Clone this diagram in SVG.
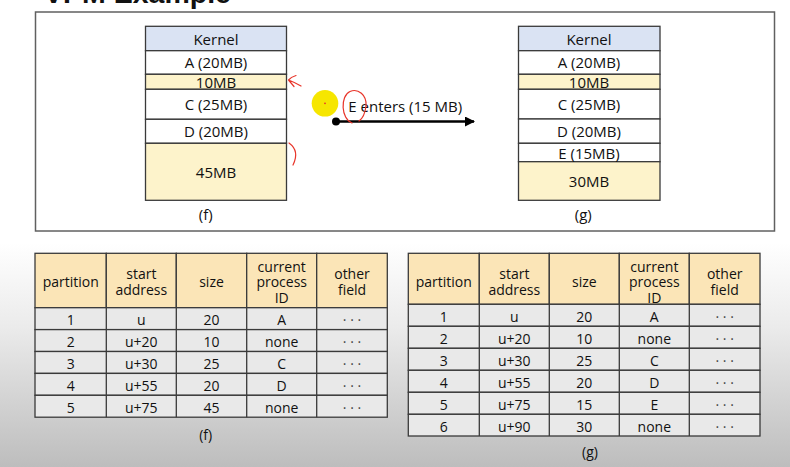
<svg xmlns="http://www.w3.org/2000/svg" width="790" height="467" viewBox="0 0 790 467">
  <defs>
    <linearGradient id="bg" x1="0" y1="0" x2="0" y2="467" gradientUnits="userSpaceOnUse">
      <stop offset="0" stop-color="#ffffff"/>
      <stop offset="0.52" stop-color="#ffffff"/>
      <stop offset="0.7" stop-color="#ebebeb"/>
      <stop offset="1" stop-color="#bdbdbd"/>
    </linearGradient>
    <marker id="arrowHead" viewBox="0 0 10 10" refX="9" refY="5" markerWidth="4" markerHeight="4" orient="auto" markerUnits="strokeWidth">
      <path d="M0,0 L10,5 L0,10 Z" fill="#000"/>
    </marker>
    <style>
      .t { font-family: "Open Sans", "Noto Sans", "Liberation Sans", sans-serif; fill: #111; text-anchor: middle; }
      .mem { font-size: 15px; }
      .tab { font-size: 14px; }
      .dots { font-size: 14px; fill: #444; }
      .cell { stroke: #3a3a3a; stroke-width: 1.3; }
      .kernel { fill: #dae3f3; }
      .free { fill: #fdf3cb; }
      .used { fill: #ffffff; }
      .head { fill: #fbe5b7; stroke: #3a3a3a; stroke-width: 1.3; }
      .row { fill: #e9e9e9; stroke: #3a3a3a; stroke-width: 1.3; }
      .ink { fill: none; stroke: #e8352a; stroke-width: 1.2; stroke-linecap: round; stroke-linejoin: round; }
    </style>
  </defs>

  <rect x="0" y="0" width="790" height="467" fill="url(#bg)"/>

  <!-- title (partly off the top edge) -->
  <text x="44" y="3" font-family="Liberation Sans, Arial, sans-serif" font-weight="bold" font-size="28.5" fill="#111">VPM Example</text>

  <!-- frame around both memory maps -->
  <rect x="35.5" y="12" width="739" height="219" fill="#ffffff" stroke="#606060" stroke-width="1.5"/>

  <!-- memory map (f) -->
  <g id="mem-f">
    <rect class="cell kernel" x="145.5" y="26.3" width="141" height="24.4"/>
    <rect class="cell used" x="145.5" y="50.7" width="141" height="23.6"/>
    <rect class="cell free" x="145.5" y="74.3" width="141" height="15"/>
    <rect class="cell used" x="145.5" y="89.3" width="141" height="30"/>
    <rect class="cell used" x="145.5" y="119.3" width="141" height="24"/>
    <rect class="cell free" x="145.5" y="143.3" width="141" height="57"/>
    <text class="t mem" x="216" y="44.5">Kernel</text>
    <text class="t mem" x="216" y="68">A (20MB)</text>
    <text class="t mem" x="216" y="87.6">10MB</text>
    <text class="t mem" x="216" y="110">C (25MB)</text>
    <text class="t mem" x="216" y="137">D (20MB)</text>
    <text class="t mem" x="216" y="177.5">45MB</text>
    <text class="t mem" x="205.7" y="220">(f)</text>
  </g>

  <!-- memory map (g) -->
  <g id="mem-g">
    <rect class="cell kernel" x="518.5" y="26.3" width="141.5" height="24.4"/>
    <rect class="cell used" x="518.5" y="50.7" width="141.5" height="23.6"/>
    <rect class="cell free" x="518.5" y="74.3" width="141.5" height="15"/>
    <rect class="cell used" x="518.5" y="89.3" width="141.5" height="29.7"/>
    <rect class="cell used" x="518.5" y="119" width="141.5" height="24.3"/>
    <rect class="cell used" x="518.5" y="143.3" width="141.5" height="18.4"/>
    <rect class="cell free" x="518.5" y="161.7" width="141.5" height="38.6"/>
    <text class="t mem" x="589" y="44.5">Kernel</text>
    <text class="t mem" x="589" y="68">A (20MB)</text>
    <text class="t mem" x="589" y="87.6">10MB</text>
    <text class="t mem" x="589" y="110">C (25MB)</text>
    <text class="t mem" x="589" y="137">D (20MB)</text>
    <text class="t mem" x="589" y="159">E (15MB)</text>
    <text class="t mem" x="589" y="187">30MB</text>
    <text class="t mem" x="583.3" y="220">(g)</text>
  </g>

  <!-- transition arrow -->
  <g id="connectors">
    <circle cx="325" cy="103.3" r="13.3" fill="#f6e600"/>
    <circle cx="325" cy="103.3" r="0.9" fill="#e8352a"/>
    <circle cx="336" cy="121.5" r="4" fill="#000"/>
    <line x1="336" y1="121.5" x2="474" y2="121.5" stroke="#000" stroke-width="2.5" marker-end="url(#arrowHead)"/>
    <text class="t mem" x="348.3" y="111.7" style="text-anchor:start">E enters (15 MB)</text>
  </g>

  <!-- pen marks -->
  <g id="pen-marks">
    <path class="ink" d="M296,75.5 Q291,77 288.5,80 L294,86.5 M288.5,80 Q295,82.5 301,86"/>
    <path class="ink" d="M289,143 Q300,151 293,165"/>
    <path class="ink" d="M352,123 C341,119 340,96 350,91.5 C358,88 367,95 366,106 C365,114 362,119 359,121"/>
  </g>

  <!-- partition table (f) -->
  <g id="table-f">
    <rect class="head" x="35" y="253.3" width="71.3" height="54.4"/>
    <rect class="head" x="106.3" y="253.3" width="70" height="54.4"/>
    <rect class="head" x="176.3" y="253.3" width="70.4" height="54.4"/>
    <rect class="head" x="246.7" y="253.3" width="70" height="54.4"/>
    <rect class="head" x="316.7" y="253.3" width="70.6" height="54.4"/>
    <g>
      <rect class="row" x="35" y="307.7" width="352.3" height="21.9"/>
      <rect class="row" x="35" y="329.6" width="352.3" height="21.9"/>
      <rect class="row" x="35" y="351.5" width="352.3" height="21.9"/>
      <rect class="row" x="35" y="373.4" width="352.3" height="21.9"/>
      <rect class="row" x="35" y="395.3" width="352.3" height="21.9"/>
      <path class="cell" d="M106.3,307.7 V417.2 M176.3,307.7 V417.2 M246.7,307.7 V417.2 M316.7,307.7 V417.2"/>
    </g>
    <text class="t tab" x="70.7" y="286.5">partition</text>
    <text class="t tab" x="141.3" y="279">start</text>
    <text class="t tab" x="141.3" y="295">address</text>
    <text class="t tab" x="211.5" y="286.5">size</text>
    <text class="t tab" x="281.7" y="271.5">current</text>
    <text class="t tab" x="281.7" y="287.3">process</text>
    <text class="t tab" x="281.7" y="303">ID</text>
    <text class="t tab" x="352" y="279">other</text>
    <text class="t tab" x="352" y="295">field</text>

    <text class="t tab" x="70.7" y="325.2">1</text>
    <text class="t tab" x="141.3" y="325.2">u</text>
    <text class="t tab" x="211.5" y="325.2">20</text>
    <text class="t tab" x="281.7" y="325.2">A</text>
    <text class="t dots" x="352" y="325.2">· · ·</text>

    <text class="t tab" x="70.7" y="347.1">2</text>
    <text class="t tab" x="141.3" y="347.1">u+20</text>
    <text class="t tab" x="211.5" y="347.1">10</text>
    <text class="t tab" x="281.7" y="347.1">none</text>
    <text class="t dots" x="352" y="347.1">· · ·</text>

    <text class="t tab" x="70.7" y="369">3</text>
    <text class="t tab" x="141.3" y="369">u+30</text>
    <text class="t tab" x="211.5" y="369">25</text>
    <text class="t tab" x="281.7" y="369">C</text>
    <text class="t dots" x="352" y="369">· · ·</text>

    <text class="t tab" x="70.7" y="390.9">4</text>
    <text class="t tab" x="141.3" y="390.9">u+55</text>
    <text class="t tab" x="211.5" y="390.9">20</text>
    <text class="t tab" x="281.7" y="390.9">D</text>
    <text class="t dots" x="352" y="390.9">· · ·</text>

    <text class="t tab" x="70.7" y="412.8">5</text>
    <text class="t tab" x="141.3" y="412.8">u+75</text>
    <text class="t tab" x="211.5" y="412.8">45</text>
    <text class="t tab" x="281.7" y="412.8">none</text>
    <text class="t dots" x="352" y="412.8">· · ·</text>

    <text class="t tab" x="205.7" y="440">(f)</text>
  </g>

  <!-- partition table (g) -->
  <g id="table-g">
    <rect class="head" x="408.3" y="253.3" width="71" height="51"/>
    <rect class="head" x="479.3" y="253.3" width="70" height="51"/>
    <rect class="head" x="549.3" y="253.3" width="70" height="51"/>
    <rect class="head" x="619.3" y="253.3" width="70" height="51"/>
    <rect class="head" x="689.3" y="253.3" width="70.7" height="51"/>
    <g>
      <rect class="row" x="408.3" y="304.3" width="351.7" height="22"/>
      <rect class="row" x="408.3" y="326.3" width="351.7" height="22"/>
      <rect class="row" x="408.3" y="348.3" width="351.7" height="22"/>
      <rect class="row" x="408.3" y="370.3" width="351.7" height="22"/>
      <rect class="row" x="408.3" y="392.3" width="351.7" height="22"/>
      <rect class="row" x="408.3" y="414.3" width="351.7" height="21.7"/>
      <path class="cell" d="M479.3,304.3 V436 M549.3,304.3 V436 M619.3,304.3 V436 M689.3,304.3 V436"/>
    </g>
    <text class="t tab" x="443.8" y="286.5">partition</text>
    <text class="t tab" x="514.3" y="279">start</text>
    <text class="t tab" x="514.3" y="295">address</text>
    <text class="t tab" x="584.3" y="286.5">size</text>
    <text class="t tab" x="654.3" y="271.5">current</text>
    <text class="t tab" x="654.3" y="287.3">process</text>
    <text class="t tab" x="654.3" y="303">ID</text>
    <text class="t tab" x="724.7" y="279">other</text>
    <text class="t tab" x="724.7" y="295">field</text>

    <text class="t tab" x="443.8" y="321.8">1</text>
    <text class="t tab" x="514.3" y="321.8">u</text>
    <text class="t tab" x="584.3" y="321.8">20</text>
    <text class="t tab" x="654.3" y="321.8">A</text>
    <text class="t dots" x="724.7" y="321.8">· · ·</text>

    <text class="t tab" x="443.8" y="343.8">2</text>
    <text class="t tab" x="514.3" y="343.8">u+20</text>
    <text class="t tab" x="584.3" y="343.8">10</text>
    <text class="t tab" x="654.3" y="343.8">none</text>
    <text class="t dots" x="724.7" y="343.8">· · ·</text>

    <text class="t tab" x="443.8" y="365.8">3</text>
    <text class="t tab" x="514.3" y="365.8">u+30</text>
    <text class="t tab" x="584.3" y="365.8">25</text>
    <text class="t tab" x="654.3" y="365.8">C</text>
    <text class="t dots" x="724.7" y="365.8">· · ·</text>

    <text class="t tab" x="443.8" y="387.8">4</text>
    <text class="t tab" x="514.3" y="387.8">u+55</text>
    <text class="t tab" x="584.3" y="387.8">20</text>
    <text class="t tab" x="654.3" y="387.8">D</text>
    <text class="t dots" x="724.7" y="387.8">· · ·</text>

    <text class="t tab" x="443.8" y="409.8">5</text>
    <text class="t tab" x="514.3" y="409.8">u+75</text>
    <text class="t tab" x="584.3" y="409.8">15</text>
    <text class="t tab" x="654.3" y="409.8">E</text>
    <text class="t dots" x="724.7" y="409.8">· · ·</text>

    <text class="t tab" x="443.8" y="431.6">6</text>
    <text class="t tab" x="514.3" y="431.6">u+90</text>
    <text class="t tab" x="584.3" y="431.6">30</text>
    <text class="t tab" x="654.3" y="431.6">none</text>
    <text class="t dots" x="724.7" y="431.6">· · ·</text>

    <text class="t tab" x="590" y="457">(g)</text>
  </g>
</svg>
